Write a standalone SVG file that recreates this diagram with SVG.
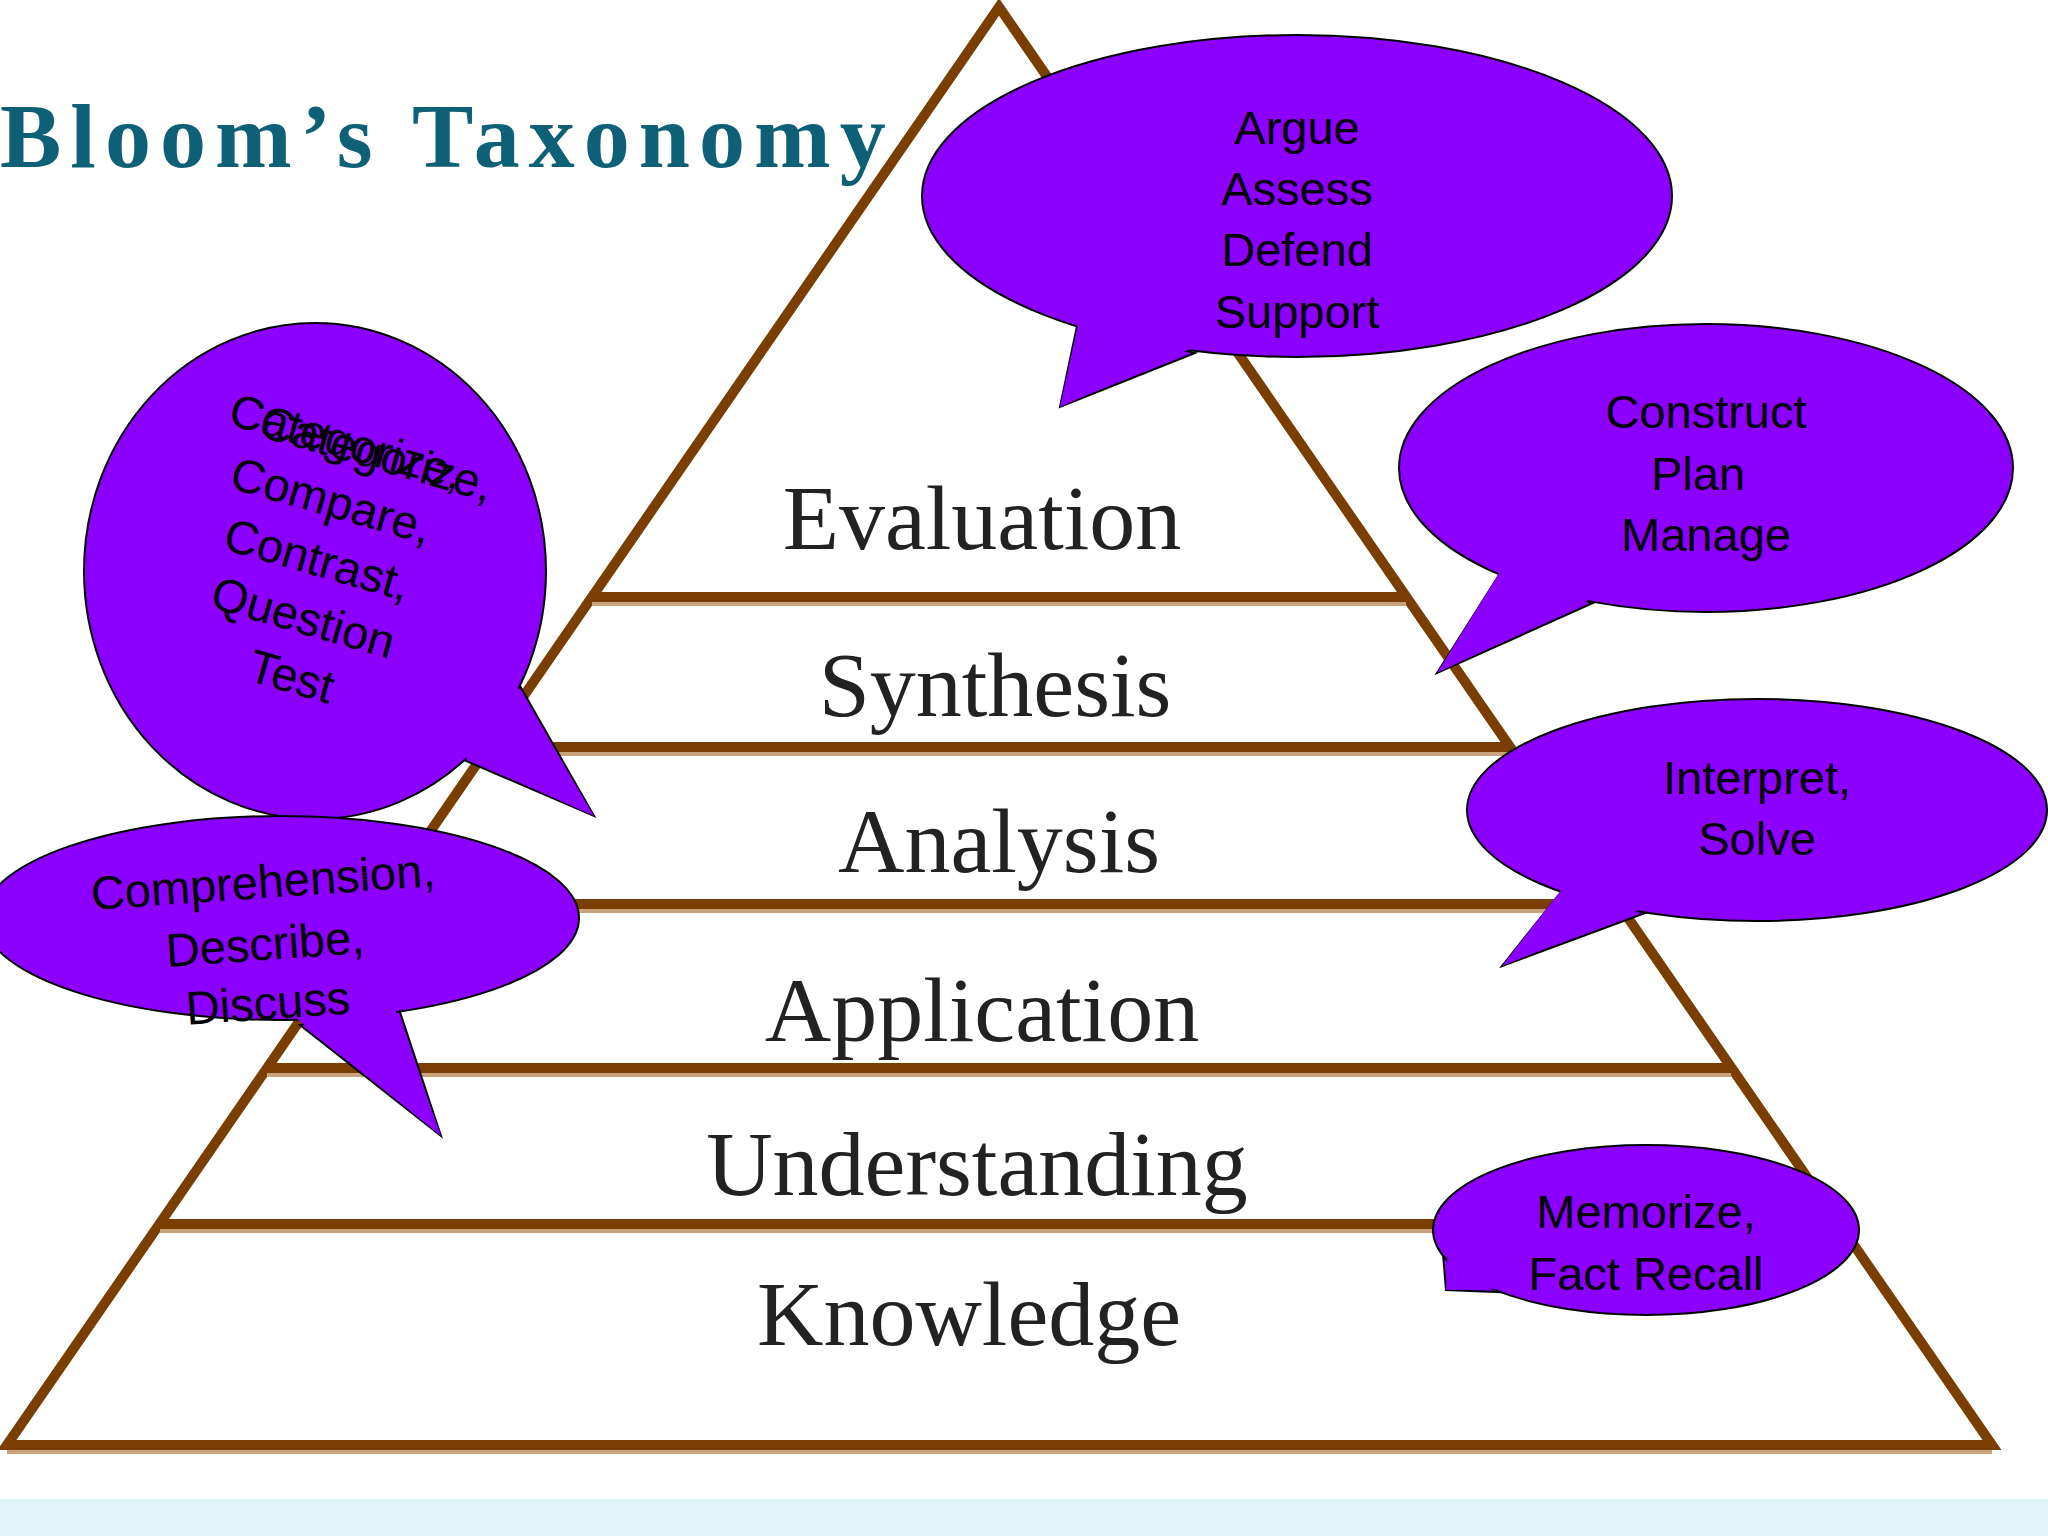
<svg xmlns="http://www.w3.org/2000/svg" width="2048" height="1536" viewBox="0 0 2048 1536">
<style>
.lvl{font-family:"Liberation Serif",serif;font-size:92px;fill:#222;text-anchor:middle}
.b{fill:#8b00ff;stroke:#000;stroke-width:2}
.bf{fill:#8b00ff;stroke:none}
.t{font-family:"Liberation Sans",Arial,sans-serif;font-size:47px;fill:#000;text-anchor:middle}
.br{stroke:#7a3e00;stroke-width:10;fill:none}
.sh{stroke:#c8a27a;stroke-width:4;fill:none}
</style>
<rect width="2048" height="1536" fill="#fff"/>
<rect y="1499" width="2048" height="37" fill="#dff4f8"/>
<text x="0" y="167" font-family="Liberation Serif,serif" font-weight="bold" font-size="92" fill="#0e6077" letter-spacing="9">Bloom’s Taxonomy</text>
<g id="pyramid">
<polygon class="br" points="999,7 7,1445 1992,1445"/>
<g class="sh"><line x1="592" y1="604" x2="1406" y2="604"/><line x1="489" y1="754" x2="1509" y2="754"/><line x1="380" y1="911" x2="1618" y2="911"/><line x1="267" y1="1075" x2="1731" y2="1075"/><line x1="160" y1="1231" x2="1838" y2="1231"/><line x1="7" y1="1452" x2="1992" y2="1452"/></g>
<g class="br"><line x1="592" y1="597" x2="1406" y2="597"/><line x1="489" y1="747" x2="1509" y2="747"/><line x1="380" y1="904" x2="1618" y2="904"/><line x1="267" y1="1068" x2="1731" y2="1068"/><line x1="160" y1="1224" x2="1838" y2="1224"/></g>
<text class="lvl" x="982" y="549">Evaluation</text>
<text class="lvl" x="995" y="716">Synthesis</text>
<text class="lvl" x="999" y="872">Analysis</text>
<text class="lvl" x="982" y="1041">Application</text>
<text class="lvl" x="977" y="1195">Understanding</text>
<text class="lvl" x="969" y="1345">Knowledge</text>
</g>
<g id="bubbles">
<g id="evaluate">
<polygon class="b" points="1077,326 1060,407 1195,353"/>
<ellipse class="b" cx="1297" cy="196" rx="375" ry="161"/>
<polygon class="bf" points="1079,320 1060,407 1197,346"/>
<text class="t" x="1297" y="144">Argue</text><text class="t" x="1297" y="205">Assess</text><text class="t" x="1297" y="266">Defend</text><text class="t" x="1297" y="328">Support</text>
</g>
<g id="synth">
<polygon class="b" points="1499,575 1437,673 1593,603"/>
<ellipse class="b" cx="1706" cy="468" rx="307" ry="144"/>
<polygon class="bf" points="1503,567 1437,673 1597,596"/>
<text class="t" x="1706" y="428">Construct</text><text class="t" x="1698" y="490">Plan</text><text class="t" x="1706" y="551">Manage</text>
</g>
<g id="apply">
<polygon class="b" points="1561,892 1502,966 1648,912"/>
<ellipse class="b" cx="1757" cy="810" rx="290" ry="111"/>
<polygon class="bf" points="1566,884 1502,966 1652,905"/>
<text class="t" x="1757" y="794">Interpret,</text><text class="t" x="1757" y="855">Solve</text>
</g>
<g id="know">
<polygon class="b" points="1443,1254 1446,1290 1521,1293"/>
<ellipse class="b" cx="1646" cy="1230" rx="213" ry="85"/>
<polygon class="bf" points="1448,1250 1446,1290 1525,1288"/>
<text class="t" x="1646" y="1228">Memorize,</text><text class="t" x="1646" y="1290">Fact Recall</text>
</g>
<g id="analyze">
<polygon class="b" points="516,679 594,816 457,757"/>
<ellipse class="b" cx="315" cy="571" rx="231" ry="248"/>
<polygon class="bf" points="510,675 594,816 452,752"/>
<g transform="rotate(16 315 571)"><text class="t" x="342" y="457" transform="rotate(0)">Categorize,</text></g>
<text class="t" transform="translate(342,457) rotate(16)">Categorize,</text>
<text class="t" transform="translate(327,516) rotate(16)">Compare,</text>
<text class="t" transform="translate(313,575) rotate(16)">Contrast,</text>
<text class="t" transform="translate(299,633) rotate(16)">Question</text>
<text class="t" transform="translate(287,692) rotate(16)">Test</text>
</g>
<g id="understand">
<polygon class="b" points="398,1006 441,1136 300,1025"/>
<ellipse class="b" cx="281" cy="918" rx="298" ry="102"/>
<polygon class="bf" points="392,1001 441,1136 296,1018"/>
<text class="t" transform="translate(264,898) rotate(-4)">Comprehension,</text>
<text class="t" transform="translate(266,960) rotate(-4)">Describe,</text>
<text class="t" transform="translate(269,1019) rotate(-4)">Discuss</text>
</g>
</g>
</svg>
